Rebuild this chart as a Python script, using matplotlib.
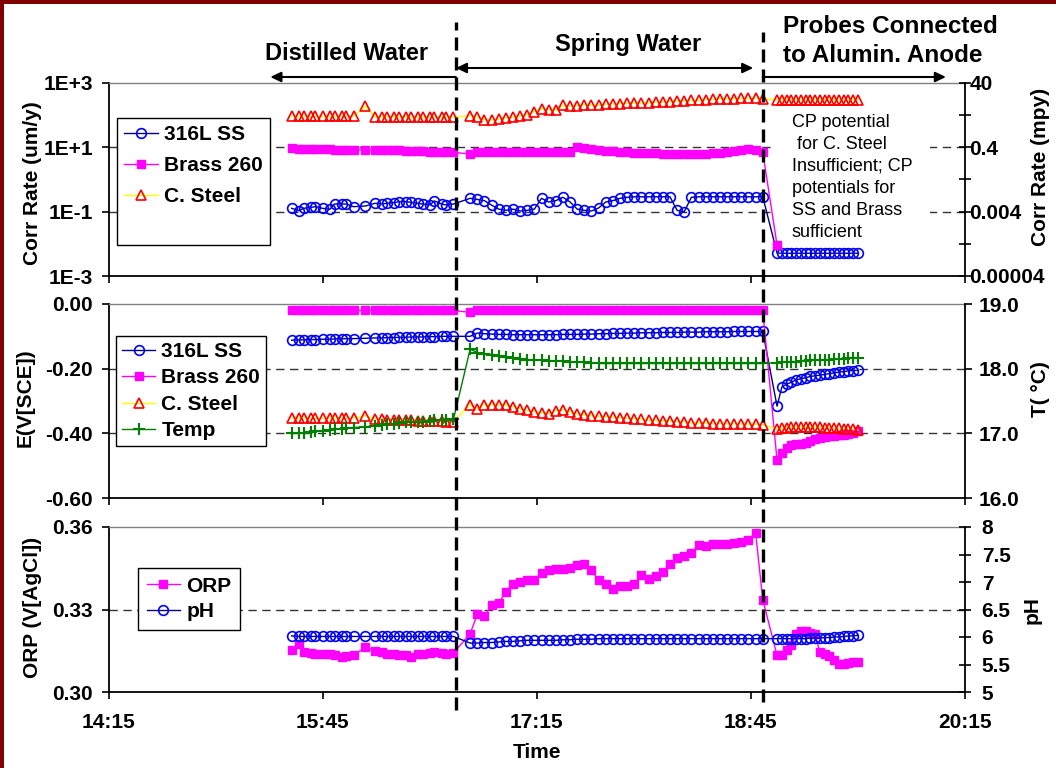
import matplotlib
matplotlib.use("Agg")
import matplotlib.pyplot as plt
import matplotlib.dates as mdates
import matplotlib.transforms as mtransforms
from matplotlib.lines import Line2D
from matplotlib.patches import Rectangle
from matplotlib.ticker import NullLocator
import pandas as pd

# sample clock times for the three test periods
time_distilled = ["15:32", "15:35", "15:37", "15:40", "15:42", "15:45", "15:48", "15:50",
                  "15:53", "15:55", "15:58", "16:03", "16:07", "16:10", "16:12", "16:15",
                  "16:17", "16:20", "16:22", "16:25", "16:27", "16:30", "16:32", "16:35",
                  "16:37", "16:40"]
time_spring = ["16:47", "16:50", "16:53", "16:56", "16:59", "17:02", "17:05", "17:08",
               "17:11", "17:14", "17:17", "17:20", "17:23", "17:26", "17:29", "17:32",
               "17:35", "17:38", "17:41", "17:44", "17:47", "17:50", "17:53", "17:56",
               "17:59", "18:02", "18:05", "18:08", "18:11", "18:14", "18:17", "18:20",
               "18:23", "18:26", "18:29", "18:32", "18:35", "18:38", "18:41", "18:44",
               "18:47", "18:50"]
time_probes = ["18:56", "18:58", "19:00", "19:02", "19:04", "19:06", "19:08", "19:10",
               "19:12", "19:14", "19:16", "19:18", "19:20", "19:22", "19:24", "19:26",
               "19:28", "19:30"]

tick_times = ["14:15", "15:45", "17:15", "18:45", "20:15"]

# corrosion rate, um/y
ss_corr = [0.127, 0.107, 0.127, 0.136, 0.143, 0.127, 0.118, 0.173, 0.173, 0.173, 0.143, 0.150,
           0.182, 0.173, 0.182, 0.19, 0.205, 0.205, 0.195, 0.182, 0.173, 0.161, 0.215, 0.173,
           0.161, 0.173,
           0.26, 0.24, 0.22, 0.16, 0.12, 0.11, 0.12, 0.105, 0.11, 0.12, 0.26, 0.20, 0.22, 0.28,
           0.20, 0.12, 0.11, 0.105, 0.13, 0.20, 0.22, 0.26, 0.28, 0.29, 0.29, 0.29, 0.29, 0.29,
           0.29, 0.11, 0.10, 0.28, 0.29, 0.29, 0.29, 0.29, 0.29, 0.29, 0.29, 0.29, 0.29, 0.29,
           0.0052, 0.0051, 0.0051, 0.0051, 0.0051, 0.0051, 0.0051, 0.0051, 0.0051, 0.0051,
           0.0051, 0.0051, 0.0051, 0.0051, 0.0051, 0.0051, 0.0051, 0.0051]
brass_corr = [9.3, 9.0, 8.9, 8.8, 8.7, 8.7, 8.6, 8.5, 8.5, 8.4, 8.4, 8.3, 8.2, 8.2, 8.1, 8.0,
              8.0, 7.9, 7.9, 7.8, 7.6, 7.4, 7.2, 7.2, 7.1, 7.0,
              6.2, 7.2, 7.2, 7.2, 7.2, 7.2, 7.2, 7.2, 7.2, 7.2, 7.2, 7.2, 7.2, 7.2, 7.2,
              10.0, 9.3, 8.7, 8.2, 7.8, 7.5, 7.2, 7.0, 6.8, 6.6, 6.5, 6.5, 6.4, 6.4, 6.3, 6.3,
              6.2, 6.2, 6.3, 6.5, 6.8, 7.2, 7.8, 8.5, 8.8, 8.0, 7.0,
              0.0092]
cs_corr = [92, 92, 92, 92, 92, 92, 92, 92, 92, 92, 92, 188, 88, 88, 90, 90, 88, 88, 85, 85,
           85, 85, 85, 88, 88, 88,
           96, 85, 72, 70, 75, 81, 87, 92, 104, 130, 155, 148, 140, 200, 190, 195, 210, 205,
           212, 218, 222, 228, 232, 236, 240, 245, 252, 258, 265, 272, 280, 288, 295, 303, 310,
           315, 320, 325, 330, 335, 340, 320,
           300, 303, 303, 300, 300, 303, 303, 300, 300, 303, 303, 300, 300, 300, 303, 300,
           300, 300]

# potentials, V vs SCE, and temperature
ss_e = [-0.112, -0.111, -0.111, -0.110, -0.110, -0.109, -0.109, -0.108, -0.108, -0.107,
        -0.107, -0.106, -0.105, -0.105, -0.104, -0.104, -0.103, -0.103, -0.102, -0.102,
        -0.102, -0.101, -0.101, -0.100, -0.100, -0.100,
        -0.100, -0.090, -0.092, -0.093, -0.094, -0.094, -0.095, -0.095, -0.095, -0.095,
        -0.095, -0.095, -0.095, -0.094, -0.094, -0.094, -0.093, -0.093, -0.092, -0.092,
        -0.091, -0.091, -0.090, -0.090, -0.089, -0.089, -0.089, -0.088, -0.088, -0.088,
        -0.087, -0.087, -0.087, -0.086, -0.086, -0.086, -0.086, -0.085, -0.085, -0.085,
        -0.085, -0.085,
        -0.316, -0.257, -0.248, -0.242, -0.235, -0.231, -0.228, -0.224, -0.222, -0.220,
        -0.218, -0.215, -0.213, -0.211, -0.209, -0.207, -0.206, -0.205]
brass_e = [-0.02, -0.02, -0.02, -0.02, -0.02, -0.02, -0.02, -0.02, -0.02, -0.02, -0.02,
           -0.02, -0.02, -0.02, -0.02, -0.02, -0.02, -0.02, -0.02, -0.02, -0.02, -0.02,
           -0.02, -0.02, -0.02, -0.02,
           -0.026, -0.02, -0.02, -0.02, -0.02, -0.02, -0.02, -0.02, -0.02, -0.02, -0.02,
           -0.02, -0.02, -0.02, -0.02, -0.02, -0.02, -0.02, -0.02, -0.02, -0.02, -0.02,
           -0.02, -0.02, -0.02, -0.02, -0.02, -0.02, -0.02, -0.02, -0.02, -0.02, -0.02,
           -0.02, -0.02, -0.02, -0.02, -0.02, -0.02, -0.02, -0.02, -0.02,
           -0.484, -0.462, -0.445, -0.436, -0.432, -0.434, -0.430, -0.425, -0.419, -0.414,
           -0.411, -0.409, -0.407, -0.405, -0.404, -0.402, -0.398, -0.394]
cs_e = [-0.353, -0.353, -0.353, -0.353, -0.353, -0.353, -0.353, -0.353, -0.353, -0.353,
        -0.353, -0.345, -0.356, -0.357, -0.358, -0.358, -0.359, -0.360, -0.360, -0.361,
        -0.362, -0.362, -0.363, -0.363, -0.364, -0.364,
        -0.311, -0.324, -0.313, -0.312, -0.311, -0.313, -0.318, -0.325, -0.329, -0.333,
        -0.337, -0.339, -0.330, -0.327, -0.335, -0.340, -0.343, -0.346, -0.347, -0.349,
        -0.350, -0.352, -0.353, -0.355, -0.357, -0.359, -0.360, -0.361, -0.362, -0.364,
        -0.365, -0.367, -0.368, -0.369, -0.370, -0.370, -0.371, -0.371, -0.371, -0.372,
        -0.372, -0.373,
        -0.388, -0.384, -0.382, -0.381, -0.380, -0.380, -0.380, -0.380, -0.380, -0.381,
        -0.382, -0.383, -0.384, -0.385, -0.386, -0.387, -0.388, -0.390]
temp = [17.00, 17.00, 17.01, 17.02, 17.03, 17.04, 17.05, 17.06, 17.07, 17.08, 17.09, 17.10,
        17.12, 17.13, 17.14, 17.15, 17.16, 17.17, 17.17, 17.18, 17.18, 17.19, 17.20, 17.20,
        17.21, 17.22,
        18.30, 18.25, 18.23, 18.21, 18.20, 18.18, 18.165, 18.155, 18.14, 18.135, 18.13,
        18.125, 18.12, 18.115, 18.11, 18.10, 18.10, 18.09, 18.08, 18.08, 18.08, 18.08,
        18.08, 18.08, 18.08, 18.08, 18.08, 18.08, 18.08, 18.08, 18.08, 18.08, 18.08, 18.08,
        18.08, 18.08, 18.08, 18.08, 18.08, 18.08, 18.08, 18.08,
        18.09, 18.10, 18.10, 18.11, 18.11, 18.12, 18.12, 18.13, 18.13, 18.14, 18.14, 18.14,
        18.15, 18.15, 18.15, 18.16, 18.16, 18.17]

# ORP (V vs AgCl) and pH
orp = [0.3154, 0.3173, 0.3145, 0.3142, 0.3137, 0.3137, 0.3139, 0.3133, 0.3127, 0.3131,
       0.3133, 0.3164, 0.3149, 0.3145, 0.3139, 0.3137, 0.3136, 0.3133, 0.3127, 0.3137,
       0.3139, 0.3143, 0.3147, 0.3142, 0.3137, 0.3142,
       0.3212, 0.3282, 0.3275, 0.3315, 0.3324, 0.3364, 0.3392, 0.3400, 0.3406, 0.3408,
       0.3433, 0.3445, 0.3446, 0.3447, 0.3452, 0.3461, 0.3464, 0.3442, 0.3406, 0.3394,
       0.3376, 0.3384, 0.3384, 0.3392, 0.3424, 0.3412, 0.3421, 0.3436, 0.3467, 0.3489,
       0.3493, 0.3505, 0.3533, 0.3532, 0.3537, 0.3539, 0.3539, 0.3542, 0.3545, 0.3554,
       0.3578, 0.3336,
       0.3133, 0.3133, 0.3154, 0.3170, 0.3212, 0.3222, 0.3221, 0.3215, 0.3210, 0.3145,
       0.3139, 0.3130, 0.3118, 0.3101, 0.3102, 0.3105, 0.3109, 0.3108]
ph = [6.02, 6.01, 6.01, 6.01, 6.01, 6.01, 6.01, 6.01, 6.01, 6.01, 6.01, 6.01, 6.01, 6.01,
      6.01, 6.01, 6.01, 6.01, 6.01, 6.01, 6.01, 6.01, 6.01, 6.01, 6.01, 6.01,
      5.89, 5.89, 5.90, 5.90, 5.91, 5.92, 5.92, 5.93, 5.94, 5.94, 5.94, 5.94, 5.94, 5.95,
      5.95, 5.96, 5.96, 5.96, 5.97, 5.97, 5.97, 5.97, 5.97, 5.97, 5.97, 5.97, 5.97, 5.97,
      5.97, 5.97, 5.97, 5.97, 5.97, 5.97, 5.97, 5.97, 5.97, 5.97, 5.97, 5.97, 5.97, 5.97,
      5.97, 5.97, 5.97, 5.97, 5.97, 5.97, 5.97, 5.98, 5.98, 5.98, 5.99, 5.99, 6.00, 6.00,
      6.01, 6.02, 6.02, 6.03]

plt.rcParams['font.family'] = ['Liberation Sans', 'DejaVu Sans']
plt.rcParams['font.weight'] = 'bold'
plt.rcParams['font.size'] = 15

W, H = 1056, 768


def fx(px):
    return px / W


def fy(py):
    return 1 - py / H


day = "2000-01-01 "
t = pd.to_datetime([day + s for s in time_distilled + time_spring + time_probes])
xt = pd.to_datetime([day + s for s in tick_times])


def tm(s):
    return mdates.date2num(pd.Timestamp(day + s))


fig = plt.figure(figsize=(10.56, 7.68), dpi=100)
fig.add_artist(Rectangle((0, 0), fx(4), 1, transform=fig.transFigure,
                         color='#800000', lw=0))
fig.add_artist(Rectangle((0, fy(4)), 1, 4 / H, transform=fig.transFigure,
                         color='#800000', lw=0))

left, width = fx(108.5), (965 - 108.5) / W
ax1 = fig.add_axes([left, fy(276), width, (276 - 83) / H])
ax2 = fig.add_axes([left, fy(498), width, (498 - 304) / H])
ax3 = fig.add_axes([left, fy(692), width, (692 - 527) / H])
ax1r, ax2r, ax3r = ax1.twinx(), ax2.twinx(), ax3.twinx()

ss_style = dict(color='#000080', marker='o', mfc='none', mec='#0000FF', ms=7, mew=1.2, lw=1)
br_style = dict(color='#FF00FF', marker='s', mfc='#FF00FF', mec='#FF00FF', ms=5.5, lw=1)
cs_style = dict(color='#FFFF00', marker='^', mfc='none', mec='#FF0000', ms=7, mew=1.2, lw=1)
tp_style = dict(color='#008000', marker='+', mec='#008000', ms=8, mew=1.5, lw=1)

# top: corrosion rates
l_ss, = ax1.plot(t, ss_corr, label='316L SS', **ss_style)
l_br, = ax1.plot(t[:len(brass_corr)], brass_corr, label='Brass 260', **br_style)
l_cs, = ax1.plot(t, cs_corr, label='C. Steel', **cs_style)
ax1.set_yscale('log')
ax1.set_ylim(1e-3, 1e3)
ax1.set_yticks([1e-3, 1e-1, 1e1, 1e3])
ax1.set_yticklabels(['1E-3', '1E-1', '1E+1', '1E+3'])
ax1r.set_yscale('log')
ax1r.set_ylim(4e-5, 40)
ax1r.set_yticks([4e-5, 4e-4, 4e-3, 4e-2, 0.4, 4, 40])
ax1r.set_yticklabels(['0.00004', '', '0.004', '', '0.4', '', '40'])
for v in [1e1, 1e-1]:
    ax1.axhline(v, color='#333333', lw=1, dashes=(6, 4), zorder=0.5)

# middle: potentials + temperature
m_ss, = ax2.plot(t, ss_e, label='316L SS', **ss_style)
m_br, = ax2.plot(t, brass_e, label='Brass 260', **br_style)
m_cs, = ax2.plot(t, cs_e, label='C. Steel', **cs_style)
m_tp, = ax2r.plot(t, temp, label='Temp', **tp_style)
ax2.set_ylim(-0.6, 0)
ax2.set_yticks([-0.6, -0.4, -0.2, 0])
ax2.set_yticklabels(['-0.60', '-0.40', '-0.20', '0.00'])
ax2r.set_ylim(16, 19)
ax2r.set_yticks([16, 17, 18, 19])
ax2r.set_yticklabels(['16.0', '17.0', '18.0', '19.0'])
for v in [-0.2, -0.4]:
    ax2.axhline(v, color='#333333', lw=1, dashes=(6, 4), zorder=0.5)

# bottom: ORP + pH
b_orp, = ax3.plot(t, orp, label='ORP', color='#FF00FF', marker='s', mfc='#FF00FF',
                  mec='#FF00FF', ms=6, lw=1)
b_ph, = ax3r.plot(t, ph, label='pH', **ss_style)
ax3.set_ylim(0.30, 0.36)
ax3.set_yticks([0.30, 0.33, 0.36])
ax3.set_yticklabels(['0.30', '0.33', '0.36'])
ax3r.set_ylim(5, 8)
ax3r.set_yticks([5, 5.5, 6, 6.5, 7, 7.5, 8])
ax3r.set_yticklabels(['5', '5.5', '6', '6.5', '7', '7.5', '8'])
ax3.axhline(0.33, color='#333333', lw=1, dashes=(6, 4), zorder=0.5)

for ax in (ax1, ax2, ax3):
    ax.set_xlim(xt[0], xt[-1])
    ax.set_xticks(xt)
    ax.xaxis.set_minor_locator(NullLocator())
    ax.yaxis.set_minor_locator(NullLocator())
    ax.tick_params(axis='x', direction='out', length=5, width=1.2, pad=10)
    ax.tick_params(axis='y', direction='out', length=5, width=1.2, pad=6)
    ax.spines['top'].set_color('#808080')
    ax.spines['top'].set_linewidth(1)
    ax.spines['right'].set_visible(False)
    for s in ('left', 'bottom'):
        ax.spines[s].set_linewidth(1.3)
ax1.set_xticklabels([])
ax2.set_xticklabels([])
ax3.set_xticklabels(tick_times)

for ax in (ax1r, ax2r, ax3r):
    ax.yaxis.set_minor_locator(NullLocator())
    for s in ('top', 'left', 'bottom'):
        ax.spines[s].set_visible(False)
    ax.spines['right'].set_linewidth(1.3)
ax1r.tick_params(axis='y', direction='inout', length=8, width=1.2, pad=-1)
ax2r.tick_params(axis='y', direction='out', length=5, width=1.2, pad=5)
ax3r.tick_params(axis='y', direction='inout', length=8, width=1.2, pad=8)

# legends
blank = Line2D([], [], color='none')
leg_kw = dict(loc='upper left', bbox_transform=fig.transFigure, fancybox=False,
              framealpha=1, edgecolor='black', handlelength=1.6, handletextpad=0.3,
              borderaxespad=0)
leg = ax1r.legend([l_ss, l_br, l_cs, blank], ['316L SS', 'Brass 260', 'C. Steel', ' '],
                  bbox_to_anchor=(fx(117), fy(118)), labelspacing=0.58, borderpad=0.35,
                  **leg_kw)
leg.get_frame().set_linewidth(1)
leg = ax2r.legend([m_ss, m_br, m_cs, m_tp], ['316L SS', 'Brass 260', 'C. Steel', 'Temp'],
                  bbox_to_anchor=(fx(116), fy(336)), labelspacing=0.36, borderpad=0.28,
                  **leg_kw)
leg.get_frame().set_linewidth(1)
leg = ax3r.legend([b_orp, b_ph], ['ORP', 'pH'],
                  bbox_to_anchor=(fx(138), fy(568)), labelspacing=0.32, borderpad=0.42,
                  **leg_kw)
leg.get_frame().set_linewidth(1)

# axis titles
fig.text(fx(33), fy(183), 'Corr Rate (um/y)', rotation=90, ha='center', va='center')
fig.text(fx(25), fy(398), 'E(V[SCE])', rotation=90, ha='center', va='center')
fig.text(fx(33), fy(607), 'ORP (V[AgCl])', rotation=90, ha='center', va='center')
fig.text(fx(1041), fy(167), 'Corr Rate (mpy)', rotation=90, ha='center', va='center')
fig.text(fx(1040), fy(389), 'T( °C)', rotation=90, ha='center', va='center')
fig.text(fx(1032), fy(610), 'pH', rotation=90, ha='center', va='center')
fig.text(fx(537), fy(752), 'Time', ha='center', va='center')

# CP note with white box over the gridlines
ax1.add_patch(Rectangle((fx(772), fy(247)), (930 - 772) / W, 140 / H,
                        transform=fig.transFigure, facecolor='white', lw=0, zorder=1))
ax1.text(fx(792), fy(114), 'CP potential\n for C. Steel\nInsufficient; CP\n'
         'potentials for\nSS and Brass\nsufficient', transform=fig.transFigure,
         ha='left', va='top', fontsize=13, fontweight='normal', linespacing=1.38, zorder=1.1)

# period boundaries
line1, line2 = "16:41", "18:50"
blend = mtransforms.blended_transform_factory(ax3.transData, fig.transFigure)
for s, y0, y1 in [(line1, 22, 710), (line2, 32, 702)]:
    x = tm(s)
    fig.add_artist(Line2D([x, x], [fy(y1), fy(y0)], transform=blend, color='black',
                          lw=2.4, dashes=(3.9, 2.1)))

arrow_kw = dict(xycoords=('data', 'figure fraction'), textcoords=('data', 'figure fraction'),
                annotation_clip=False)
head = 'head_length=0.42,head_width=0.2'
ax3.annotate('', xy=(tm("15:23"), fy(77)), xytext=(tm(line1), fy(77)),
             arrowprops=dict(arrowstyle='-|>,' + head, color='black', lw=1.5,
                             shrinkA=0, shrinkB=0), **arrow_kw)
ax3.annotate('', xy=(tm("18:46"), fy(68)), xytext=(tm(line1), fy(68)),
             arrowprops=dict(arrowstyle='<|-|>,' + head, color='black', lw=1.5,
                             shrinkA=0, shrinkB=0), **arrow_kw)
ax3.annotate('', xy=(tm("20:07"), fy(77)), xytext=(tm(line2), fy(77)),
             arrowprops=dict(arrowstyle='-|>,' + head, color='black', lw=1.5,
                             shrinkA=0, shrinkB=0), **arrow_kw)

fig.text(fx(347), fy(53), 'Distilled Water', ha='center', va='center', fontsize=17)
fig.text(fx(628), fy(44), 'Spring Water', ha='center', va='center', fontsize=17)
fig.text(fx(783), fy(41), 'Probes Connected\nto Alumin. Anode', ha='left', va='center',
         fontsize=17.5, linespacing=1.3)

fig.savefig('out.png', dpi=100)
